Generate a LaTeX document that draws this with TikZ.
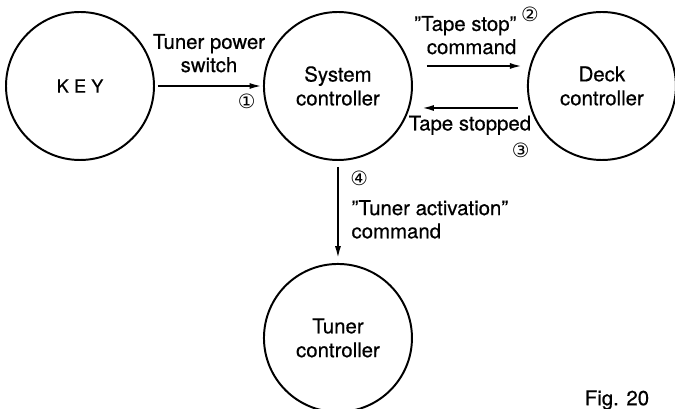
\documentclass[tikz,border=0pt]{standalone}
\usepackage{fontspec}
\setmainfont{TeX Gyre Heros}[FakeBold=0.5]
\newfontfamily\symfont{DejaVu Sans}
\usepackage{tikz}
\usetikzlibrary{arrows.meta,positioning}
\definecolor{inkblack}{RGB}{0,0,0}

\begin{document}
\begin{tikzpicture}[
  ctrl/.style={draw=inkblack, line width=1.4pt, circle, minimum size=3.7cm, inner sep=0pt, align=center, font=\fontsize{14.5}{17}\selectfont},
  lab/.style={font=\fontsize{14.5}{16.5}\selectfont, align=center},
  num/.style={font=\symfont\fontsize{14}{14}\selectfont, inner sep=1pt},
  arr/.style={-{Latex[length=3mm,width=1.5mm]}, line width=1.3pt}
]
\useasboundingbox (0,0) rectangle (16.875,-10.225);
\node[ctrl, font=\fontsize{13}{15}\selectfont] (key) at (2.0,-2.15) {K E Y};
\node[ctrl, right=2.7cm of key] (sys) {System\\controller};
\node[ctrl, right=2.85cm of sys] (deck) {Deck\\controller};
\node[ctrl, below=2.55cm of sys] (tuner) {Tuner\\controller};
% key -> system
\draw[arr, shorten <=2pt, shorten >=1pt] (key) -- (sys)
  node (pwr) [lab, midway, above=2mm] {Tuner power\\switch}
  node (n1) [num, pos=0.85, below=1.5mm] {①};
% system <-> deck
\draw[arr] ([xshift=0.35cm, yshift=0.5cm]sys.east) -- ([xshift=-0.125cm, yshift=0.5cm]deck.west)
  node (tsc) [lab, pos=1, anchor=south east, yshift=1.5mm, align=right] {''Tape stop''\\command};
\node[num] (n2) at ([xshift=0.2cm, yshift=-0.1cm]tsc.north east) {②};
\draw[arr] ([xshift=-0.225cm, yshift=-0.55cm]deck.west) -- ([xshift=0.225cm, yshift=-0.55cm]sys.east)
  node (tsd) [lab, midway, below=0.5mm] {Tape stopped};
\node[num] (n3) at ([xshift=-0.4cm, yshift=-0.25cm]tsd.south east) {③};
% system -> tuner
\draw[arr, shorten <=0.15cm, shorten >=0.12cm] (sys) -- (tuner)
  node (n4) [num, pos=0.17, right=0.25cm] {④}
  node (tac) [lab, pos=0.33, anchor=north west, xshift=0.2cm, align=left] {''Tuner activation''\\command};
\node[lab] (fig) at (15.425,-10.0) {Fig. 20};
\end{tikzpicture}
\end{document}
